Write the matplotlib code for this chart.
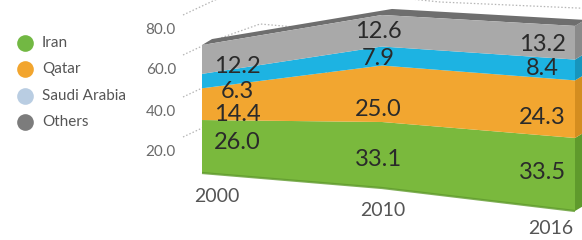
import matplotlib
matplotlib.use("Agg")
import matplotlib.pyplot as plt
import matplotlib.transforms as mtransforms
import numpy as np

years = ['2000', '2010', '2016']
series = ['Iran', 'Qatar', 'Saudi Arabia', 'Others']
iran = [26.0, 33.1, 33.5]
qatar = [14.4, 25.0, 24.3]
saudi = [6.3, 7.9, 8.4]
others = [12.2, 12.6, 13.2]
y_ticks = [20, 40, 60, 80]

face_colors = ['#7ab93d', '#f2a630', '#1db3e2', '#a9a9a9']
side_colors = ['#5f9a2c', '#d48d1f', '#1795bd', '#8a8a8a']
legend_colors = ['#72b843', '#f2a52e', '#b9cde2', '#7c7c7c']

# perspective of the front face (pixel space): x of each year, baseline, vertical scale
POS = [0, 1, 2]
FRONT_X = [202, 382, 575]
FRONT_BASE = [173, 188, 211]
SCALE_A = [1.931, 1.843, 2.069]
SCALE_B = [0.0041, 0.00456, 0.0033]
DEPTH = (10, -6)


class Tilt(mtransforms.Transform):
    input_dims = 2
    output_dims = 2
    is_separable = False
    has_inverse = False

    def __init__(self, dx=0.0, dy=0.0):
        super().__init__()
        self.dx = dx
        self.dy = dy

    def transform_non_affine(self, values):
        values = np.asarray(values, dtype=float).reshape(-1, 2)
        i, v = values[:, 0], values[:, 1]
        a = np.interp(i, POS, SCALE_A)
        b = np.interp(i, POS, SCALE_B)
        x = np.interp(i, POS, FRONT_X) + self.dx
        y = np.interp(i, POS, FRONT_BASE) - a * v - b * v * v + self.dy
        return np.column_stack([x, y])


fig = plt.figure(figsize=(5.82, 2.40), dpi=100)
ax = fig.add_axes([0, 0, 1, 1])
ax.set_xlim(0, 582)
ax.set_ylim(240, 0)
ax.axis('off')
plt.rcParams['font.family'] = ['Lato', 'DejaVu Sans']

front = Tilt()
back = Tilt(*DEPTH)
ftrans = front + ax.transData

# back wall dotted grid lines
grid_x = np.array([183, 215, 260, 295, 440, 600])
grid_f = np.array([0, -15, -31, -28, -13, -6])
tick_y = {20: 137, 40: 97, 60: 55, 80: 15}
for t in y_ticks:
    ax.plot(grid_x, tick_y[t] + grid_f, color='#b5b5b5', lw=0.9,
            ls=(0, (1.2, 1.6)), zorder=1)
    ax.text(176, tick_y[t] + 15, '%.1f' % t, ha='right', va='center',
            fontsize=11, color='#6a6a6a')

values = np.array([iran, qatar, saudi, others])
tops = np.cumsum(values, axis=0)
lows = tops - values
idx = np.arange(len(years))

for k in range(len(series)):
    verts = np.column_stack([np.r_[idx, idx[::-1]], np.r_[lows[k], tops[k][::-1]]])
    ax.add_patch(plt.Polygon(verts, closed=True, transform=ftrans,
                             facecolor=face_colors[k], edgecolor='none', zorder=3))
    # right side face
    pf = front.transform([[idx[-1], lows[k][-1]], [idx[-1], tops[k][-1]]])
    pb = back.transform([[idx[-1], tops[k][-1]], [idx[-1], lows[k][-1]]])
    ax.add_patch(plt.Polygon(np.vstack([pf, pb]), closed=True,
                             facecolor=side_colors[k], edgecolor='none', zorder=2))

# bottom edge shading
ax.plot(idx, lows[0], transform=ftrans, color=side_colors[0], lw=1.6,
        alpha=0.8, zorder=4, solid_capstyle='butt')

# top face
top_pts = np.column_stack([idx, tops[-1]])
tf = front.transform(top_pts)
tb = back.transform(top_pts)[::-1]
ax.add_patch(plt.Polygon(np.vstack([tf, tb]), closed=True,
                         facecolor='#6e6e6e', edgecolor='none', zorder=2))

# value labels
x_nudge = [35, -4, -33]
y_nudge = [[5, -10, -10, -7], [-3, -15, -2, -1], [3, -8, 2, -2]]
for j in idx:
    for k in range(len(series)):
        mid = (lows[k][j] + tops[k][j]) / 2
        ax.annotate('%.1f' % values[k][j], xy=(j, mid), xycoords=ftrans,
                    xytext=(x_nudge[j], y_nudge[j][k]), textcoords='offset pixels',
                    ha='center', va='center', fontsize=17, color='#2a2a2a', zorder=5)

# year labels
year_xy = [(217, 197), (383, 211), (551, 229)]
for j, yr in enumerate(years):
    ax.text(year_xy[j][0], year_xy[j][1], yr, ha='center', va='center',
            fontsize=14, color='#555555')

# legend
for k, name in enumerate(series):
    yy = 43 + k * 26.3
    ax.plot(25, yy, 'o', ms=12, color=legend_colors[k], mec='none')
    ax.text(42, yy, name, ha='left', va='center', fontsize=11, color='#555555')

fig.savefig('out.png', dpi=100)
